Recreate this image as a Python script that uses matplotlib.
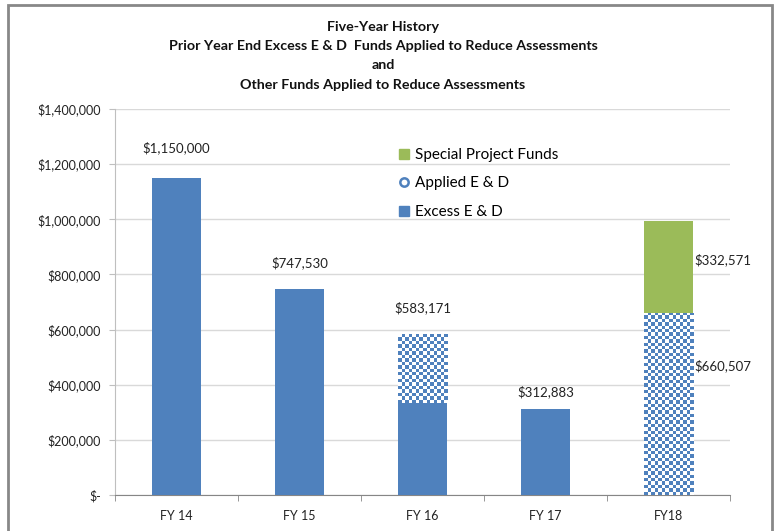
import matplotlib
matplotlib.use("Agg")
import matplotlib.pyplot as plt
import numpy as np
from matplotlib.patches import Rectangle
from matplotlib.lines import Line2D
from matplotlib.colors import ListedColormap

plt.rcParams['font.family'] = ['Lato', 'DejaVu Sans']

categories = ["FY 14", "FY 15", "FY 16", "FY 17", "FY18"]
excess = [1150000, 747530, 335000, 312883, 0]
applied = [0, 0, 248171, 0, 660507]
special = [0, 0, 0, 0, 332571]
total_labels = ["$1,150,000", "$747,530", "$583,171", "$312,883", None]
yticks = [0, 200000, 400000, 600000, 800000, 1000000, 1200000, 1400000]
ytick_labels = ["$-", "$200,000", "$400,000", "$600,000", "$800,000",
                "$1,000,000", "$1,200,000", "$1,400,000"]

BLUE = "#4F81BD"
GREEN = "#9BBB59"

W, H = 774, 531
fig = plt.figure(figsize=(W / 100, H / 100), dpi=100)
ax = fig.add_axes([115 / W, 1 - 495 / H, (730 - 115) / W, (495 - 109) / H])

x = np.arange(len(categories))
bw = 0.4
excess_b = ax.bar(x, excess, bw, color=BLUE, zorder=3)
applied_b = ax.bar(x, applied, bw, bottom=excess, color=BLUE, zorder=3)
bottom2 = [e + a for e, a in zip(excess, applied)]
special_b = ax.bar(x, special, bw, bottom=bottom2, color=GREEN, zorder=3)

ax.set_xlim(-0.5, len(categories) - 0.5)
ax.set_ylim(0, 1400000)
ax.set_yticks(yticks)
ax.set_yticklabels(ytick_labels, fontsize=9, color="#222222")
ax.set_xticks(x)
ax.set_xticklabels(categories, fontsize=9, color="#222222")
ax.set_xticks(np.arange(-0.5, len(categories) + 0.5, 1), minor=True)
ax.tick_params(axis='x', which='major', length=0, pad=11)
ax.tick_params(axis='x', which='minor', length=4, color="#868686")
ax.tick_params(axis='y', length=4, color="#BFBFBF", pad=6)
ax.grid(axis='y', color="#D9D9D9", linewidth=1, zorder=0)
for s in ['top', 'right']:
    ax.spines[s].set_visible(False)
ax.spines['left'].set_color("#BFBFBF")
ax.spines['bottom'].set_color("#868686")

# checkered fill for Applied E & D
fig.canvas.draw()
cmap = ListedColormap([BLUE, "white"])
for p in applied_b.patches:
    if p.get_height() <= 0:
        continue
    bb = p.get_window_extent()
    nx = max(2, int(round(bb.width / 3.4)))
    ny = max(2, int(round(bb.height / 3.4)))
    checker = (np.add.outer(np.arange(ny), np.arange(nx)) % 2).astype(float)
    x0, y0 = p.get_x(), p.get_y()
    im = ax.imshow(checker, cmap=cmap, extent=[x0, x0 + p.get_width(), y0, y0 + p.get_height()],
                   aspect='auto', interpolation='nearest', zorder=4, origin='lower')
    im.set_clip_path(p)
ax.set_xlim(-0.5, len(categories) - 0.5)
ax.set_ylim(0, 1400000)

# data labels
offsets = [30, 26, 26, 17, 0]
for i, lab in enumerate(total_labels):
    if lab is None:
        continue
    top = excess[i] + applied[i] + special[i]
    ax.annotate(lab, (x[i], top), xytext=(0, offsets[i]), textcoords='offset pixels',
                ha='center', va='center', fontsize=9.5, color="#222222", zorder=5)

i = 4
ax.annotate("$332,571", (x[i] + bw / 2, bottom2[i] + special[i] * 0.58), xytext=(1, 0),
            textcoords='offset pixels', ha='left', va='center', fontsize=9.5, color="#222222")
ax.annotate("$660,507", (x[i] + bw / 2, excess[i] + applied[i] * 0.71), xytext=(1, 0),
            textcoords='offset pixels', ha='left', va='center', fontsize=9.5, color="#222222")

handles = [
    Line2D([], [], marker='s', linestyle='none', color=GREEN, markersize=7),
    Line2D([], [], marker='o', linestyle='none', markerfacecolor='white',
           markeredgecolor=BLUE, markeredgewidth=1.8, markersize=6),
    Line2D([], [], marker='s', linestyle='none', color=BLUE, markersize=7),
]
labels = ["Special Project Funds", "Applied E & D", "Excess E & D"]
leg = ax.legend(handles, labels, loc='upper left', bbox_to_anchor=(0.445, 0.915),
                frameon=False, fontsize=11, labelspacing=0.95, handletextpad=0.1,
                handlelength=1.2, borderaxespad=0)

title_lines = ["Five-Year History",
               "Prior Year End Excess E & D  Funds Applied to Reduce Assessments",
               "and",
               "Other Funds Applied to Reduce Assessments"]
for k, t in enumerate(title_lines):
    fig.text(383 / W, 1 - (27 + 19.2 * k) / H, t, ha='center', va='center',
             fontsize=10.3, fontweight='bold', color="#111111")

fig.patches.append(Rectangle((8 / W, -0.01), (772 - 8) / W, 1 - 5 / H + 0.01,
                             transform=fig.transFigure, fill=False,
                             edgecolor="#888888", linewidth=2))

fig.savefig("out.png", dpi=100)
